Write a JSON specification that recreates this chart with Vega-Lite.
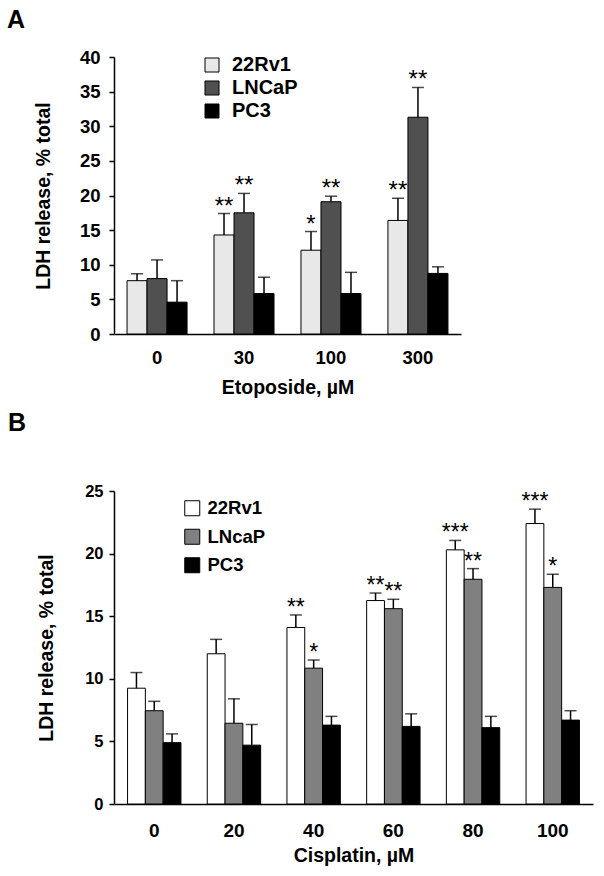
{
  "$schema": "https://vega.github.io/schema/vega-lite/v6.json",
  "padding": {"left": 7, "top": 8, "right": 5, "bottom": 5},
  "spacing": 14,
  "background": "white",
  "resolve": {"scale": {"fill": "independent", "xOffset": "independent", "x": "independent", "y": "independent"}, "legend": {"fill": "independent"}},
  "config": {
    "font": "Liberation Sans",
    "view": {"stroke": null},
    "axis": {
      "labelFont": "Liberation Sans", "labelFontWeight": "bold", "labelColor": "black",
      "titleFont": "Liberation Sans", "titleFontWeight": "bold", "titleColor": "black",
      "domainColor": "black", "domainWidth": 1.5, "tickColor": "black", "tickWidth": 1.5, "grid": false,
      "labelOverlap": false
    },
    "axisX": {"ticks": false, "tickSize": 0, "labelAngle": 0},
    "axisY": {"tickSize": 5},
    "legend": {"padding": 0}
  },
  "vconcat": [
    {
      "width": 347,
      "height": 277,
      "title": {"text": "A", "anchor": "start", "frame": "group", "dx": -107, "fontSize": 25, "fontWeight": "bold", "font": "Liberation Sans", "color": "black", "baseline": "alphabetic", "offset": -5},
      "data": {"values": [
        {"dose": "0", "line": "22Rv1", "value": 7.7, "err": 8.7, "sig": ""},
        {"dose": "0", "line": "LNCaP", "value": 8.0, "err": 10.7, "sig": ""},
        {"dose": "0", "line": "PC3", "value": 4.6, "err": 7.7, "sig": ""},
        {"dose": "30", "line": "22Rv1", "value": 14.3, "err": 17.4, "sig": "**"},
        {"dose": "30", "line": "LNCaP", "value": 17.5, "err": 20.3, "sig": "**"},
        {"dose": "30", "line": "PC3", "value": 5.85, "err": 8.2, "sig": ""},
        {"dose": "100", "line": "22Rv1", "value": 12.1, "err": 14.8, "sig": "*"},
        {"dose": "100", "line": "LNCaP", "value": 19.1, "err": 19.9, "sig": "**"},
        {"dose": "100", "line": "PC3", "value": 5.85, "err": 8.9, "sig": ""},
        {"dose": "300", "line": "22Rv1", "value": 16.4, "err": 19.6, "sig": "**"},
        {"dose": "300", "line": "LNCaP", "value": 31.3, "err": 35.6, "sig": "**"},
        {"dose": "300", "line": "PC3", "value": 8.75, "err": 9.7, "sig": ""}
      ]},
      "encoding": {
        "x": {"field": "dose", "type": "ordinal", "sort": ["0", "30", "100", "300"],
              "scale": {"paddingInner": 0.31, "paddingOuter": 0.15},
              "axis": {"labelFontSize": 18.5, "titleFontSize": 19.5, "labelPadding": 14, "titlePadding": 12},
              "title": "Etoposide, µM"},
        "xOffset": {"field": "line", "type": "nominal", "sort": ["22Rv1", "LNCaP", "PC3"]}
      },
      "layer": [
        {
          "mark": {"type": "bar", "stroke": "black", "strokeWidth": 1},
          "encoding": {
            "y": {"field": "value", "type": "quantitative", "title": "LDH release, % total",
                  "scale": {"domain": [0, 40], "nice": false},
                  "axis": {"values": [0, 5, 10, 15, 20, 25, 30, 35, 40], "labelFontSize": 18.5, "titleFontSize": 19.5, "labelPadding": 9, "titlePadding": 26}},
            "fill": {"field": "line", "type": "nominal",
                     "scale": {"domain": ["22Rv1", "LNCaP", "PC3"], "range": ["#e8e8e8", "#505050", "#000000"]},
                     "legend": {"orient": "none", "legendX": 88, "legendY": -2, "title": null,
                                "labelFontSize": 20, "labelFontWeight": "bold", "labelColor": "black", "labelFont": "Liberation Sans",
                                "symbolType": "square", "symbolSize": 196, "symbolStrokeColor": "black", "symbolStrokeWidth": 1,
                                "rowPadding": 3, "labelOffset": 10}}
          }
        },
        {
          "mark": {"type": "rule", "color": "black", "strokeWidth": 1.5},
          "encoding": {
            "y": {"field": "value", "type": "quantitative", "title": "LDH release, % total",
                  "axis": {"values": [0, 5, 10, 15, 20, 25, 30, 35, 40], "labelFontSize": 18.5, "titleFontSize": 19.5, "labelPadding": 9, "titlePadding": 26}},
            "y2": {"field": "err"}
          }
        },
        {
          "mark": {"type": "tick", "color": "black", "thickness": 1.5, "size": 12},
          "encoding": {
            "y": {"field": "err", "type": "quantitative", "title": "LDH release, % total",
                  "axis": {"values": [0, 5, 10, 15, 20, 25, 30, 35, 40], "labelFontSize": 18.5, "titleFontSize": 19.5, "labelPadding": 9, "titlePadding": 26}}
          }
        },
        {
          "mark": {"type": "text", "font": "Liberation Sans", "fontSize": 24, "baseline": "alphabetic", "dy": 0, "color": "black"},
          "encoding": {
            "y": {"field": "err", "type": "quantitative", "title": "LDH release, % total",
                  "axis": {"values": [0, 5, 10, 15, 20, 25, 30, 35, 40], "labelFontSize": 18.5, "titleFontSize": 19.5, "labelPadding": 9, "titlePadding": 26}},
            "text": {"field": "sig"}
          }
        }
      ]
    },
    {
      "width": 479,
      "height": 313,
      "title": {"text": "B", "anchor": "start", "frame": "group", "dx": -106, "fontSize": 25, "fontWeight": "bold", "font": "Liberation Sans", "color": "black", "baseline": "alphabetic", "offset": 27},
      "data": {"values": [
        {"dose": "0", "line": "22Rv1", "value": 9.25, "err": 10.5, "sig": ""},
        {"dose": "0", "line": "LNcaP", "value": 7.45, "err": 8.2, "sig": ""},
        {"dose": "0", "line": "PC3", "value": 4.9, "err": 5.6, "sig": ""},
        {"dose": "20", "line": "22Rv1", "value": 12.0, "err": 13.15, "sig": ""},
        {"dose": "20", "line": "LNcaP", "value": 6.45, "err": 8.4, "sig": ""},
        {"dose": "20", "line": "PC3", "value": 4.7, "err": 6.35, "sig": ""},
        {"dose": "40", "line": "22Rv1", "value": 14.1, "err": 15.1, "sig": "**"},
        {"dose": "40", "line": "LNcaP", "value": 10.85, "err": 11.5, "sig": "*"},
        {"dose": "40", "line": "PC3", "value": 6.3, "err": 7.0, "sig": ""},
        {"dose": "60", "line": "22Rv1", "value": 16.25, "err": 16.85, "sig": "**"},
        {"dose": "60", "line": "LNcaP", "value": 15.6, "err": 16.35, "sig": "**"},
        {"dose": "60", "line": "PC3", "value": 6.2, "err": 7.2, "sig": ""},
        {"dose": "80", "line": "22Rv1", "value": 20.3, "err": 21.05, "sig": "***"},
        {"dose": "80", "line": "LNcaP", "value": 17.95, "err": 18.8, "sig": "**"},
        {"dose": "80", "line": "PC3", "value": 6.1, "err": 7.0, "sig": ""},
        {"dose": "100", "line": "22Rv1", "value": 22.4, "err": 23.55, "sig": "***"},
        {"dose": "100", "line": "LNcaP", "value": 17.3, "err": 18.35, "sig": "*"},
        {"dose": "100", "line": "PC3", "value": 6.7, "err": 7.45, "sig": ""}
      ]},
      "encoding": {
        "x": {"field": "dose", "type": "ordinal", "sort": ["0", "20", "40", "60", "80", "100"],
              "scale": {"paddingInner": 0.33, "paddingOuter": 0.17},
              "axis": {"labelFontSize": 19, "titleFontSize": 19.5, "labelPadding": 17, "titlePadding": 6},
              "title": "Cisplatin, µM"},
        "xOffset": {"field": "line", "type": "nominal", "sort": ["22Rv1", "LNcaP", "PC3"]}
      },
      "layer": [
        {
          "mark": {"type": "bar", "stroke": "black", "strokeWidth": 1},
          "encoding": {
            "y": {"field": "value", "type": "quantitative", "title": "LDH release, % total",
                  "scale": {"domain": [0, 25], "nice": false},
                  "axis": {"values": [0, 5, 10, 15, 20, 25], "labelFontSize": 16.5, "titleFontSize": 19.5, "labelPadding": 6, "titlePadding": 28}},
            "fill": {"field": "line", "type": "nominal",
                     "scale": {"domain": ["22Rv1", "LNcaP", "PC3"], "range": ["#ffffff", "#808080", "#000000"]},
                     "legend": {"orient": "none", "legendX": 69, "legendY": 8, "title": null,
                                "labelFontSize": 18.5, "labelFontWeight": "bold", "labelColor": "black", "labelFont": "Liberation Sans",
                                "symbolType": "square", "symbolSize": 225, "symbolStrokeColor": "black", "symbolStrokeWidth": 1,
                                "rowPadding": 8.5, "labelOffset": 6}}
          }
        },
        {
          "mark": {"type": "rule", "color": "black", "strokeWidth": 1.5},
          "encoding": {
            "y": {"field": "value", "type": "quantitative", "title": "LDH release, % total",
                  "axis": {"values": [0, 5, 10, 15, 20, 25], "labelFontSize": 16.5, "titleFontSize": 19.5, "labelPadding": 6, "titlePadding": 28}},
            "y2": {"field": "err"}
          }
        },
        {
          "mark": {"type": "tick", "color": "black", "thickness": 1.5, "size": 12},
          "encoding": {
            "y": {"field": "err", "type": "quantitative", "title": "LDH release, % total",
                  "axis": {"values": [0, 5, 10, 15, 20, 25], "labelFontSize": 16.5, "titleFontSize": 19.5, "labelPadding": 6, "titlePadding": 28}}
          }
        },
        {
          "mark": {"type": "text", "font": "Liberation Sans", "fontSize": 23, "baseline": "alphabetic", "dy": 0, "color": "black"},
          "encoding": {
            "y": {"field": "err", "type": "quantitative", "title": "LDH release, % total",
                  "axis": {"values": [0, 5, 10, 15, 20, 25], "labelFontSize": 16.5, "titleFontSize": 19.5, "labelPadding": 6, "titlePadding": 28}},
            "text": {"field": "sig"}
          }
        }
      ]
    }
  ]
}
